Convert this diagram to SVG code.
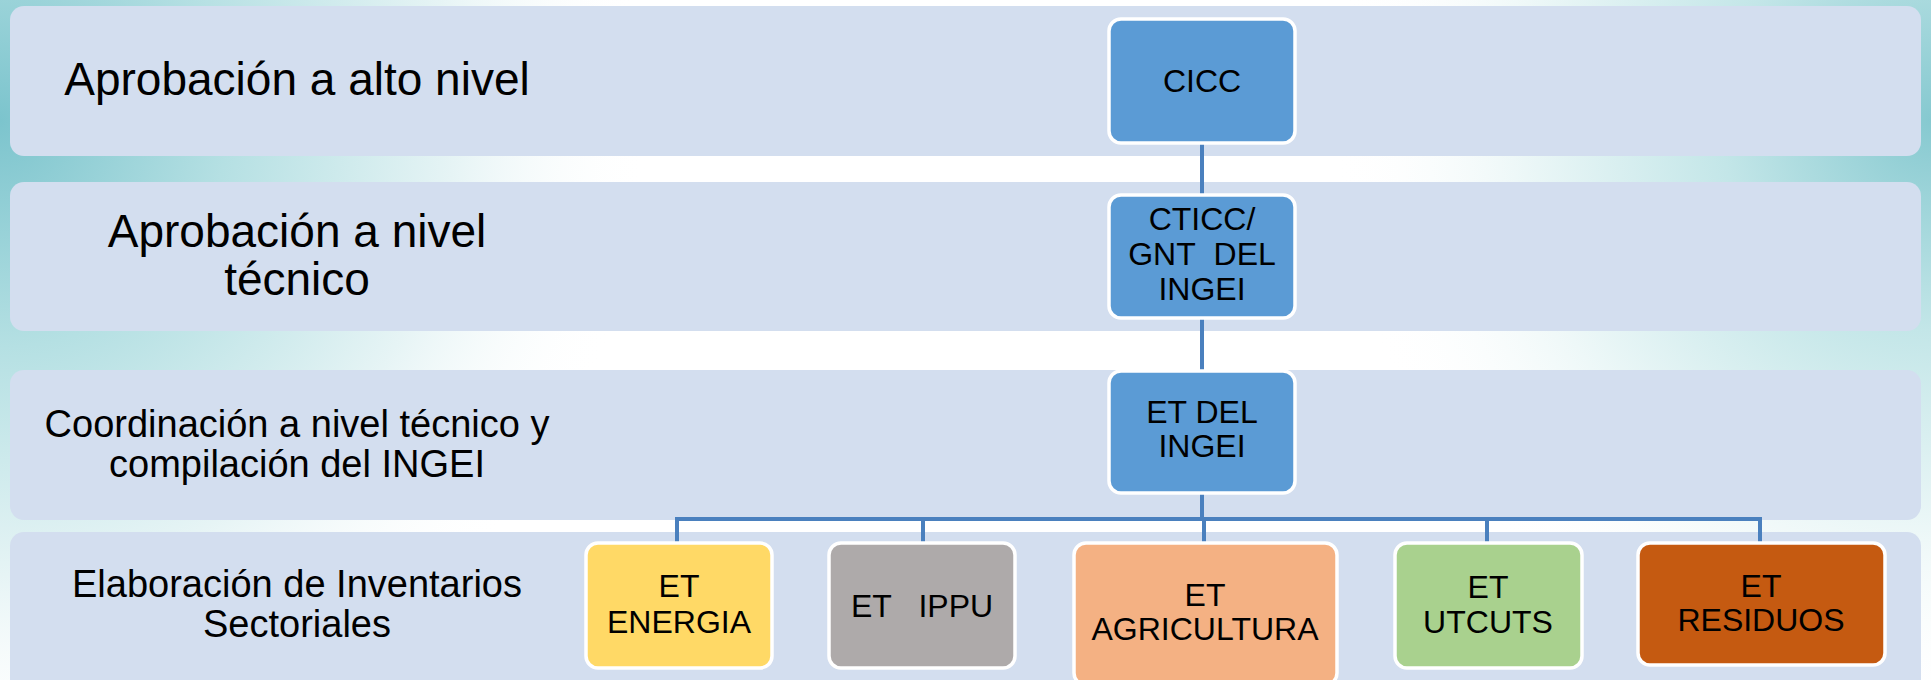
<svg xmlns="http://www.w3.org/2000/svg" width="1931" height="680" viewBox="0 0 1931 680">
<style>
.band{fill:#D3DEEF}
.node{stroke:#FFFFFF;stroke-width:3.5}
.blue{fill:#5B9BD5}
.lbl{font-family:"Liberation Sans",Arial,sans-serif;fill:#000;text-anchor:middle}
.nt{font-family:"Liberation Sans",Arial,sans-serif;fill:#000;text-anchor:middle;font-size:32px}
.conn{stroke:#4A80BE;stroke-width:4;fill:none}
</style>
<defs>
<radialGradient id="gl" cx="0" cy="120" r="650" gradientUnits="userSpaceOnUse">
<stop offset="0" stop-color="#7CC4CD"/>
<stop offset="0.35" stop-color="#B5E0E3"/>
<stop offset="0.7" stop-color="#E6F4F5"/>
<stop offset="1" stop-color="#FFFFFF" stop-opacity="0"/>
</radialGradient>
<radialGradient id="gr" cx="1931" cy="120" r="600" gradientUnits="userSpaceOnUse">
<stop offset="0" stop-color="#86C9D0"/>
<stop offset="0.35" stop-color="#C3E6E8"/>
<stop offset="0.7" stop-color="#EEF8F8"/>
<stop offset="1" stop-color="#FFFFFF" stop-opacity="0"/>
</radialGradient>
</defs>
<rect x="0" y="0" width="1931" height="680" fill="#FFFFFF"/>
<rect x="0" y="0" width="1931" height="680" fill="url(#gl)"/>
<rect x="0" y="0" width="1931" height="680" fill="url(#gr)"/>

<g id="bands">
<rect class="band" x="10" y="6" width="1911" height="150" rx="14"/>
<rect class="band" x="10" y="182" width="1911" height="149" rx="14"/>
<rect class="band" x="10" y="370" width="1911" height="150" rx="14"/>
<rect class="band" x="10" y="532" width="1911" height="170" rx="14"/>
</g>

<g id="level-labels">
<text class="lbl" x="297" y="95" font-size="46">Aprobación a alto nivel</text>
<text class="lbl" x="297" y="247" font-size="46">Aprobación a nivel</text>
<text class="lbl" x="297" y="295" font-size="46">técnico</text>
<text class="lbl" x="297" y="437" font-size="38">Coordinación a nivel técnico y</text>
<text class="lbl" x="297" y="477" font-size="38">compilación del INGEI</text>
<text class="lbl" x="297" y="597" font-size="38">Elaboración de Inventarios</text>
<text class="lbl" x="297" y="637" font-size="38">Sectoriales</text>
</g>

<g id="connectors">
<line class="conn" x1="1202" y1="143" x2="1202" y2="195"/>
<line class="conn" x1="1202" y1="318" x2="1202" y2="371"/>
<line class="conn" x1="1202" y1="493" x2="1202" y2="519"/>
<polyline class="conn" points="677,543 677,519 1760,519 1760,543"/>
<line class="conn" x1="923" y1="519" x2="923" y2="543"/>
<line class="conn" x1="1204" y1="519" x2="1204" y2="543"/>
<line class="conn" x1="1487" y1="519" x2="1487" y2="543"/>
</g>

<g id="cicc">
<rect class="node blue" x="1109" y="19" width="186" height="124" rx="12"/>
<text class="nt" x="1202" y="92" font-size="33">CICC</text>
</g>
<g id="cticc">
<rect class="node blue" x="1109" y="195" width="186" height="123" rx="12"/>
<text class="nt" x="1202" y="230">CTICC/</text>
<text class="nt" x="1202" y="265">GNT&#160; DEL</text>
<text class="nt" x="1202" y="300">INGEI</text>
</g>
<g id="et-del-ingei">
<rect class="node blue" x="1109" y="371" width="186" height="122" rx="12"/>
<text class="nt" x="1202" y="423">ET DEL</text>
<text class="nt" x="1202" y="457">INGEI</text>
</g>
<g id="et-energia">
<rect class="node" fill="#FFD966" x="586" y="543" width="186" height="125" rx="12"/>
<text class="nt" x="679" y="597">ET</text>
<text class="nt" x="679" y="633">ENERGIA</text>
</g>
<g id="et-ippu">
<rect class="node" fill="#AEAAAA" x="829" y="543" width="186" height="125" rx="12"/>
<text class="nt" x="922" y="617">ET&#160;&#160; IPPU</text>
</g>
<g id="et-agricultura">
<rect class="node" fill="#F4B183" x="1074" y="543" width="263" height="142" rx="12"/>
<text class="nt" x="1205" y="606" font-size="29">ET</text>
<text class="nt" x="1205" y="640" font-size="29">AGRICULTURA</text>
</g>
<g id="et-utcuts">
<rect class="node" fill="#A9D18E" x="1395" y="543" width="187" height="125" rx="12"/>
<text class="nt" x="1488" y="598">ET</text>
<text class="nt" x="1488" y="633">UTCUTS</text>
</g>
<g id="et-residuos">
<rect class="node" fill="#C55A11" x="1638" y="543" width="247" height="122" rx="12"/>
<text class="nt" x="1761" y="597">ET</text>
<text class="nt" x="1761" y="631">RESIDUOS</text>
</g>
</svg>
